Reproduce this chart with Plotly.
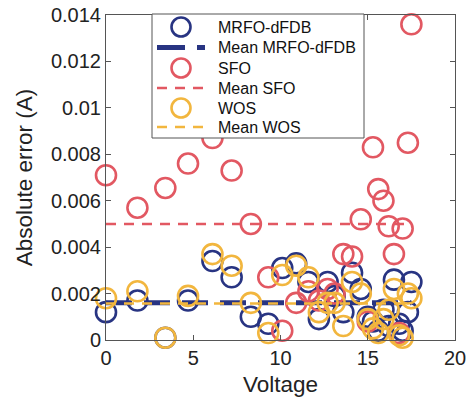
import plotly.graph_objects as go

voltage = [0, 1.8, 3.4, 4.7, 6.1, 7.2, 8.3, 9.3, 10.1, 10.9, 11.6, 12.2, 12.7, 13.1,
           13.6, 14.1, 14.6, 15.0, 15.3, 15.6, 15.9, 16.2, 16.5, 16.8, 17.0, 17.3, 17.5]

err_mrfo = [0.0012, 0.0017, 0.0001, 0.0017, 0.0034, 0.0027, 0.0010, 0.0007, 0.0031, 0.0033,
            0.0025, 0.0009, 0.0025, 0.0019, 0.0012, 0.0029, 0.0022, 0.0010, 0.0008, 0.0004,
            0.0013, 0.0006, 0.0026, 0.0007, 0.0004, 0.0012, 0.0025]
err_sfo = [0.0071, 0.0057, 0.00655, 0.0076, 0.0087, 0.0073, 0.0050, 0.0027, 0.0004, 0.0016,
           0.0021, 0.0017, 0.0022, 0.0020, 0.0037, 0.0036, 0.0052, 0.0008, 0.0083, 0.0065,
           0.0060, 0.0049, 0.0037, 0.0003, 0.0048, 0.0085, 0.0136]
err_wos = [0.0018, 0.0021, 0.0001, 0.0019, 0.0037, 0.0032, 0.0016, 0.0003, 0.0028, 0.0032,
           0.0027, 0.0012, 0.0016, 0.0016, 0.0006, 0.0025, 0.0020, 0.0009, 0.0005, 0.0003,
           0.0009, 0.0013, 0.0022, 0.0002, 0.0001, 0.0020, 0.0018]

series_names = ["MRFO-dFDB", "SFO", "WOS"]
mean_values = [0.00161, 0.0050, 0.00157]

y_ticks = [0, 0.002, 0.004, 0.006, 0.008, 0.01, 0.012, 0.014]
y_tick_labels = ["0", "0.002", "0.004", "0.006", "0.008", "0.01", "0.012", "0.014"]
x_ticks = [0, 5, 10, 15, 20]

BLUE = "rgb(40,52,130)"
RED = "rgb(226,88,98)"
YEL = "rgb(242,182,62)"
colors = [BLUE, RED, YEL]
mean_widths = [5, 2.5, 2.5]
mean_dashes = ["26px,12px", "10px,8px", "10px,8px"]
FONT = "Liberation Sans, Arial, sans-serif"

fig = go.Figure()
for name, ys, color, mean, mw, md in zip(series_names, [err_mrfo, err_sfo, err_wos], colors,
                                         mean_values, mean_widths, mean_dashes):
    fig.add_trace(go.Scatter(
        x=voltage, y=ys, mode="markers", name=name, cliponaxis=False,
        marker=dict(symbol="circle-open", size=20, color=color, line=dict(width=2.6, color=color)),
    ))
    fig.add_trace(go.Scatter(
        x=[voltage[0], voltage[-1]], y=[mean, mean], mode="lines", name="Mean " + name,
        line=dict(color=color, width=mw, dash=md),
    ))

# ---- hand-built legend (paper coordinates derived from pixel layout) ----
L, R, T, B = 106, 455, 15, 340
def px(x):
    return (x - L) / (R - L)
def py(y):
    return (B - y) / (B - T)

shapes = [dict(type="rect", xref="paper", yref="paper", layer="above",
               x0=px(152), x1=px(364), y0=py(138), y1=py(14),
               line=dict(color="#555", width=1), fillcolor="white")]
annotations = []
row_y = [27, 47.5, 68, 88, 108, 127]
labels = []
for i, name in enumerate(series_names):
    labels.append((name, "marker", i))
    labels.append(("Mean " + name, "line", i))
for (text, kind, i), yy in zip(labels, row_y):
    c = colors[i]
    if kind == "marker":
        r = 9.5
        shapes.append(dict(type="circle", xref="paper", yref="paper", layer="above",
                           x0=px(181 - r), x1=px(181 + r), y0=py(yy + r), y1=py(yy - r),
                           line=dict(color=c, width=2.6)))
    else:
        shapes.append(dict(type="line", xref="paper", yref="paper", layer="above",
                           x0=px(157), x1=px(205), y0=py(yy), y1=py(yy),
                           line=dict(color=c, width=mean_widths[i], dash="28px,12px" if i == 0 else "10px,8px")))
    annotations.append(dict(text=text, xref="paper", yref="paper", x=px(216), y=py(yy),
                            xanchor="left", yanchor="middle", showarrow=False,
                            font=dict(family=FONT, size=16, color="#111")))

axis_common = dict(
    showline=True, linecolor="#555", linewidth=1, mirror="ticks",
    ticks="inside", ticklen=5, tickcolor="#555", showgrid=False, zeroline=False,
    tickfont=dict(family=FONT, size=20, color="#222"), automargin=False,
)

fig.update_layout(
    width=476, height=399,
    margin=dict(l=L, r=476 - R, t=T, b=399 - B),
    paper_bgcolor="white", plot_bgcolor="white",
    showlegend=False,
    shapes=shapes, annotations=annotations,
    xaxis=dict(range=[0, 20], tickvals=x_ticks,
               title=dict(text="Voltage", font=dict(family=FONT, size=22.5, color="#222"), standoff=8),
               **axis_common),
    yaxis=dict(range=[0, 0.014], tickvals=y_ticks, ticktext=y_tick_labels,
               title=dict(text="Absolute error (A)", font=dict(family=FONT, size=22.5, color="#222"), standoff=12),
               **axis_common),
)

fig.write_html("out.html")
